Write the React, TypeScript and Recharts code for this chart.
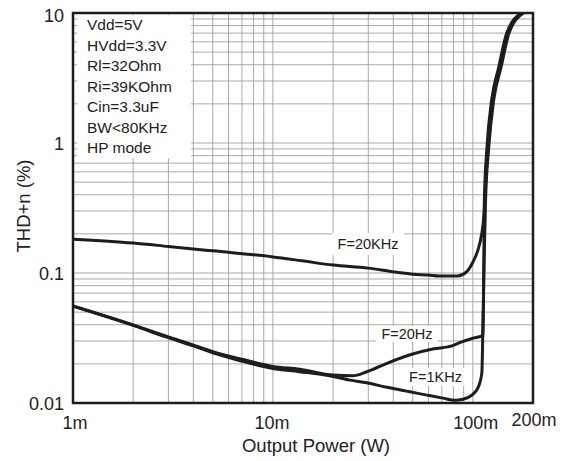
import React from 'react';
import {
  LineChart,
  Line,
  XAxis,
  YAxis,
  CartesianGrid,
  ReferenceArea,
} from 'recharts';

// grid lines (log decades) and the few labelled ticks
const X_GRID = [
  0.001, 0.002, 0.003, 0.004, 0.005, 0.006, 0.007, 0.008, 0.009,
  0.01, 0.02, 0.03, 0.04, 0.05, 0.06, 0.07, 0.08, 0.09, 0.1, 0.2,
];
const Y_GRID = [
  0.01, 0.02, 0.03, 0.04, 0.05, 0.06, 0.07, 0.08, 0.09,
  0.1, 0.2, 0.3, 0.4, 0.5, 0.6, 0.7, 0.8, 0.9,
  1, 2, 3, 4, 5, 6, 7, 8, 9, 10,
];
const X_LABEL_TICKS = [0.001, 0.01, 0.1, 0.2];
const X_LABEL_TEXT = ['1m', '10m', '100m', '200m'];
const Y_LABEL_TICKS = [0.01, 0.1, 1, 10];
const Y_LABEL_TEXT = ['0.01', '0.1', '1', '10'];

const CONDITIONS = [
  'Vdd=5V',
  'HVdd=3.3V',
  'Rl=32Ohm',
  'Ri=39KOhm',
  'Cin=3.3uF',
  'BW<80KHz',
  'HP mode',
];

// F=20KHz
const P_20K = [
  0.001, 0.002, 0.003, 0.005, 0.01, 0.014, 0.02, 0.03, 0.04, 0.05, 0.06,
  0.068, 0.084, 0.093, 0.1, 0.106, 0.111, 0.1135, 0.1148, 0.1184, 0.1255,
  0.1365, 0.1496, 0.177,
];
const THD_20K = [
  0.182, 0.17, 0.16, 0.148, 0.133, 0.124, 0.115, 0.109, 0.102, 0.098, 0.0965,
  0.095, 0.095, 0.102, 0.121, 0.15, 0.203, 0.27, 0.364, 0.88, 2.14,
  3.84, 7.02, 10,
];

// F=20Hz
const P_20 = [
  0.001, 0.002, 0.003, 0.004, 0.005, 0.007, 0.01, 0.0136, 0.02, 0.0251,
  0.0295, 0.0372, 0.05, 0.063, 0.0794, 0.086, 0.1, 0.1109, 0.1122, 0.1135,
  0.1158, 0.1198, 0.1272, 0.1385, 0.1518, 0.179,
];
const THD_20 = [
  0.0557, 0.0398, 0.0322, 0.0279, 0.0248, 0.0217, 0.0191, 0.0182, 0.0164,
  0.0162, 0.0174, 0.0202, 0.0238, 0.026, 0.0276, 0.0291, 0.0315, 0.0328,
  0.034, 0.1, 0.364, 0.88, 2.14, 3.84, 7.02, 10,
];

// F=1KHz
const P_1K = [
  0.001, 0.002, 0.003, 0.004, 0.005, 0.007, 0.01, 0.0136, 0.02, 0.0243,
  0.0295, 0.0372, 0.0484, 0.0589, 0.0708, 0.0813, 0.0891, 0.0989, 0.1059,
  0.1109, 0.1122, 0.1135, 0.1142, 0.1174, 0.1242, 0.1348, 0.1478, 0.175,
];
const THD_1K = [
  0.0555, 0.0395, 0.0318, 0.0275, 0.0243, 0.021, 0.0184, 0.0174, 0.016,
  0.015, 0.0143, 0.0132, 0.0122, 0.0115, 0.0109, 0.0105, 0.0107, 0.0115,
  0.013, 0.0169, 0.0344, 0.1, 0.364, 0.88, 2.14, 3.84, 7.02, 10,
];

const toPoints = (xs: number[], ys: number[]) =>
  xs.map((power, i) => ({ power, thd: ys[i] }));

const data20k = toPoints(P_20K, THD_20K);
const data20 = toPoints(P_20, THD_20);
const data1k = toPoints(P_1K, THD_1K);

const FONT = '"Liberation Sans", Arial, sans-serif';
const INK = '#1e1c1d';

const XTick = (props: any) => {
  const { x, payload } = props;
  const idx = X_LABEL_TICKS.indexOf(payload.value);
  if (idx < 0) return null;
  const dx = [2, -1, 3, 1][idx];
  const y = idx === 3 ? 425.5 : 428.5;
  return (
    <text x={x + dx} y={y} textAnchor="middle" fontSize={18} fill="#222" fontFamily={FONT}>
      {X_LABEL_TEXT[idx]}
    </text>
  );
};

const YTick = (props: any) => {
  const { y, payload } = props;
  const idx = Y_LABEL_TICKS.indexOf(payload.value);
  if (idx < 0) return null;
  const dy = idx === 3 ? 2 : 0;
  return (
    <text x={64} y={y + 6.5 + dy} textAnchor="end" fontSize={18} fill="#222" fontFamily={FONT}>
      {Y_LABEL_TEXT[idx]}
    </text>
  );
};

const noteStyle: React.CSSProperties = {
  position: 'absolute',
  background: '#fff',
  fontFamily: FONT,
  fontSize: 14.5,
  color: '#222',
  textAlign: 'center',
  whiteSpace: 'nowrap',
};

export default function App() {
  return (
    <div style={{ position: 'absolute', left: 0, top: 0, width: 571, height: 461, background: '#fff' }}>
      <LineChart
        width={571}
        height={461}
        margin={{ top: 13, right: 38, bottom: 0, left: 0 }}
      >
        <CartesianGrid stroke="#a9a9a9" strokeWidth={1} />
        <XAxis
          type="number"
          dataKey="power"
          scale="log"
          domain={[0.001, 0.2]}
          ticks={X_GRID}
          interval={0}
          allowDataOverflow
          axisLine={false}
          tickLine={false}
          height={58}
          tick={<XTick />}
          label={{
            content: () => (
              <text x={316} y={452} textAnchor="middle" fontSize={18.5} fill="#222" fontFamily={FONT}>
                Output Power (W)
              </text>
            ),
          }}
        />
        <YAxis
          type="number"
          dataKey="thd"
          scale="log"
          domain={[0.01, 10]}
          ticks={Y_GRID}
          interval={0}
          allowDataOverflow
          axisLine={false}
          tickLine={false}
          width={73}
          tick={<YTick />}
          label={{
            content: () => (
              <text
                x={30}
                y={206}
                textAnchor="middle"
                fontSize={18.5}
                fill="#222"
                fontFamily={FONT}
                transform="rotate(-90 30 206)"
              >
                THD+n (%)
              </text>
            ),
          }}
        />
        <Line
          data={data20k}
          dataKey="thd"
          type="monotone"
          stroke={INK}
          strokeWidth={3}
          dot={false}
          activeDot={false}
          isAnimationActive={false}
        />
        <Line
          data={data20}
          dataKey="thd"
          type="monotone"
          stroke={INK}
          strokeWidth={3}
          dot={false}
          activeDot={false}
          isAnimationActive={false}
        />
        <Line
          data={data1k}
          dataKey="thd"
          type="monotone"
          stroke={INK}
          strokeWidth={3}
          dot={false}
          activeDot={false}
          isAnimationActive={false}
        />
        <ReferenceArea
          x1={0.001}
          x2={0.2}
          y1={0.01}
          y2={10}
          fill="none"
          fillOpacity={0}
          stroke={INK}
          strokeWidth={2.5}
          ifOverflow="visible"
        />
      </LineChart>

      <div
        style={{
          position: 'absolute',
          left: 77,
          top: 15,
          width: 114,
          height: 143,
          background: '#fff',
          fontFamily: FONT,
          fontSize: 15.5,
          lineHeight: '20.5px',
          color: '#222',
          paddingLeft: 10,
          boxSizing: 'border-box',
        }}
      >
        {CONDITIONS.map((c) => (
          <div key={c}>{c}</div>
        ))}
      </div>

      <div style={{ ...noteStyle, left: 332, top: 233, width: 72, height: 22, lineHeight: '22px' }}>
        F=20KHz
      </div>
      <div style={{ ...noteStyle, left: 376, top: 326, width: 62, height: 16, lineHeight: '16px' }}>
        F=20Hz
      </div>
      <div style={{ ...noteStyle, left: 404, top: 368, width: 63, height: 18, lineHeight: '18px' }}>
        F=1KHz
      </div>
    </div>
  );
}
